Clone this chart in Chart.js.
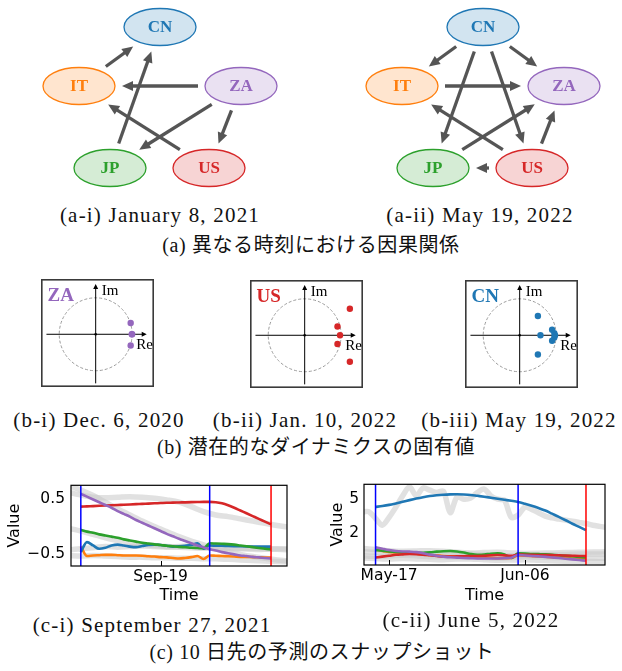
<!DOCTYPE html>
<html>
<head>
<meta charset="utf-8">
<script src="https://cdn.jsdelivr.net/npm/chart.js"></script>
<style>
  html, body { margin: 0; padding: 0; background: #fff; }
  #fig { position: relative; width: 622px; height: 671px; overflow: hidden; background: #fff; }
  #fig canvas { position: absolute; }
  .cap {
    position: absolute; white-space: nowrap; transform: translate(-50%, -50%);
    font-family: "Liberation Serif", "Noto Sans CJK JP", serif; font-size: 21px;
    letter-spacing: 1.2px; line-height: 1.2; color: #111;
  }
  .cap.jp { font-size: 20px; letter-spacing: 0.6px; }
</style>
</head>
<body>
<div id="fig">
  <canvas id="ga1" width="299" height="195" style="left:0px;top:0px"></canvas>
  <canvas id="ga2" width="299" height="195" style="left:323px;top:0px"></canvas>
  <div class="cap" style="left:160px;top:216px">(a-i) January 8, 2021</div>
  <div class="cap" style="left:480px;top:216px">(a-ii) May 19, 2022</div>
  <div class="cap jp" style="left:311px;top:245px">(a) 異なる時刻における因果関係</div>

  <canvas id="eb1" width="121" height="116" style="left:37px;top:275px"></canvas>
  <canvas id="eb2" width="121" height="116" style="left:246px;top:276px"></canvas>
  <canvas id="eb3" width="121" height="116" style="left:461px;top:276px"></canvas>
  <div class="cap" style="left:99px;top:421px">(b-i) Dec. 6, 2020</div>
  <div class="cap" style="left:305px;top:421px">(b-ii) Jan. 10, 2022</div>
  <div class="cap" style="left:519px;top:421px">(b-iii) May 19, 2022</div>
  <div class="cap jp" style="left:316px;top:447px">(b) 潜在的なダイナミクスの固有値</div>

  <canvas id="tc1" width="311" height="140" style="left:0px;top:470px"></canvas>
  <canvas id="tc2" width="311" height="140" style="left:311px;top:470px"></canvas>
  <div class="cap" style="left:152px;top:626px">(c-i) September 27, 2021</div>
  <div class="cap" style="left:471px;top:621px">(c-ii) June 5, 2022</div>
  <div class="cap jp" style="left:322px;top:652px">(c) 10 日先の予測のスナップショット</div>
</div>

<script>
// ---------------- data ----------------

// countries (graph nodes)
const NODES = ['CN', 'IT', 'ZA', 'JP', 'US'];

// causal edges [from, to]
const EDGES_JAN_2021 = [['IT', 'CN'], ['ZA', 'IT'], ['JP', 'CN'], ['US', 'IT'], ['ZA', 'JP'], ['ZA', 'US']];
const EDGES_MAY_2022 = [['CN', 'IT'], ['CN', 'ZA'], ['CN', 'JP'], ['CN', 'US'], ['IT', 'ZA'],
                        ['US', 'IT'], ['JP', 'ZA'], ['US', 'ZA'], ['US', 'JP']];

// eigenvalues of the latent dynamics (real / imaginary parts)
const EIG_ZA_RE = [0.96, 1.00, 0.99, 0.96];
const EIG_ZA_IM = [0.31, 0.00, 0.00, -0.31];
const EIG_US_RE = [1.24, 0.90, 0.97, 0.90, 1.24];
const EIG_US_IM = [0.73, 0.24, 0.00, -0.24, -0.73];
const EIG_CN_RE = [0.50, 0.57, 0.50, 0.89, 0.95, 0.97, 0.95, 0.89];
const EIG_CN_IM = [0.53, 0.00, -0.53, 0.15, 0.06, 0.00, -0.06, -0.15];

// (c-i) day numbers in Sep 2021; window start, forecast origin, horizon
const CI_WINDOW = [6, 27, 37];
const CI_XTICKS = [19];
const CI_XTICK_LABELS = ['Sep-19'];
const CI_YTICKS = [0.5, -0.5];
const CI_YTICK_LABELS = ['0.5', '\u22120.5'];
const CI_PRED_DAYS = [6, 7, 8, 9, 10, 11, 12, 13, 14, 15, 16, 17, 18, 19, 20, 21, 22, 23, 24, 25, 26,
                      27, 28, 29, 30, 31, 32, 33, 34, 35, 36, 37];
const CI_CN = [-0.46, -0.28, -0.34, -0.40, -0.38, -0.34, -0.325, -0.34, -0.36, -0.37, -0.35, -0.33, -0.325,
               -0.33, -0.345, -0.36, -0.355, -0.345, -0.33, -0.30, -0.40,
               -0.34, -0.343, -0.346, -0.349, -0.352, -0.355, -0.357, -0.358, -0.359, -0.36, -0.36];
const CI_IT = [-0.36, -0.53, -0.52, -0.515, -0.51, -0.51, -0.515, -0.52, -0.52, -0.52, -0.525, -0.535, -0.54,
               -0.55, -0.555, -0.565, -0.575, -0.565, -0.55, -0.53, -0.585,
               -0.52, -0.525, -0.53, -0.535, -0.54, -0.545, -0.548, -0.55, -0.553, -0.556, -0.558];
const CI_JP = [-0.06, -0.09, -0.11, -0.14, -0.16, -0.18, -0.20, -0.23, -0.25, -0.27, -0.29, -0.305, -0.32,
               -0.33, -0.345, -0.355, -0.365, -0.372, -0.38, -0.385, -0.39,
               -0.30, -0.305, -0.31, -0.315, -0.325, -0.34, -0.355, -0.37, -0.385, -0.40, -0.41];
const CI_US = [0.36, 0.365, 0.37, 0.375, 0.38, 0.385, 0.39, 0.395, 0.40, 0.405, 0.41, 0.415, 0.42, 0.425,
               0.43, 0.432, 0.435, 0.438, 0.441, 0.444, 0.447,
               0.447, 0.44, 0.42, 0.385, 0.34, 0.29, 0.24, 0.19, 0.14, 0.09, 0.04];
const CI_ZA = [0.59, 0.54, 0.49, 0.44, 0.39, 0.34, 0.28, 0.23, 0.18, 0.12, 0.07, 0.02, -0.03, -0.08,
               -0.13, -0.175, -0.22, -0.26, -0.30, -0.34, -0.375,
               -0.41, -0.43, -0.46, -0.48, -0.50, -0.52, -0.53, -0.545, -0.555, -0.565, -0.575];
// observed values (every other day)
const CI_OBS_DAYS = [4, 6, 8, 10, 12, 14, 16, 18, 20, 22, 24, 26, 28, 30, 32, 34, 36, 38, 40];
const CI_OBS = [
  [0.62, 0.57, 0.53, 0.52, 0.53, 0.54, 0.53, 0.51, 0.48, 0.44, 0.36, 0.27, 0.21, 0.18, 0.14, 0.10, 0.06, 0.02, -0.01],
  [0.74, 0.66, 0.56, 0.44, 0.32, 0.21, 0.10, 0.00, -0.09, -0.18, -0.26, -0.33, -0.40, -0.45, -0.50, -0.54, -0.57, -0.60, -0.62],
  [-0.03, -0.08, -0.14, -0.20, -0.25, -0.29, -0.32, -0.34, -0.36, -0.37, -0.38, -0.39, -0.39, -0.40, -0.40, -0.41, -0.41, -0.41, -0.42],
  [-0.42, -0.40, -0.38, -0.36, -0.37, -0.36, -0.35, -0.36, -0.37, -0.36, -0.35, -0.37, -0.38, -0.38, -0.39, -0.39, -0.40, -0.40, -0.40],
  [-0.52, -0.53, -0.52, -0.53, -0.54, -0.55, -0.55, -0.56, -0.56, -0.57, -0.57, -0.58, -0.58, -0.59, -0.60, -0.61, -0.62, -0.63, -0.64]
];

// (c-ii) day numbers counted from May 1, 2022 (Jun 6 = 37)
const CII_WINDOW = [15, 36, 46];
const CII_XTICKS = [17, 37];
const CII_XTICK_LABELS = ['May-17', 'Jun-06'];
const CII_YTICKS = [5, 2];
const CII_YTICK_LABELS = ['5', '2'];
const CII_PRED_DAYS = [15, 16, 17, 18, 19, 20, 21, 22, 23, 24, 25, 26, 27, 28, 29, 30, 31, 32, 33, 34, 35, 36,
                       37, 38, 39, 40, 41, 42, 43, 44, 45, 46];
const CII_CN = [4.32, 4.40, 4.50, 4.63, 4.77, 4.92, 5.06, 5.18, 5.28, 5.35, 5.40, 5.43, 5.44, 5.42, 5.38, 5.30,
                5.22, 5.13, 5.04, 4.95, 4.86, 4.76, 4.60, 4.42, 4.22, 4.00, 3.72, 3.44, 3.14, 2.83, 2.55, 2.26];
const CII_IT = [0.55, 0.42, 0.33, 0.28, 0.25, 0.22, 0.18, 0.12, 0.06, 0.02, -0.02, -0.05, -0.06, -0.06, -0.08,
                -0.10, -0.14, -0.18, -0.22, -0.22, -0.20, 0.02,
                0.00, -0.03, -0.06, -0.09, -0.12, -0.16, -0.20, -0.24, -0.28, -0.32];
const CII_JP = [0.50, 0.45, 0.38, 0.33, 0.30, 0.28, 0.27, 0.27, 0.30, 0.36, 0.40, 0.42, 0.38, 0.28, 0.15,
                0.08, 0.10, 0.18, 0.22, 0.10, -0.20, 0.22,
                0.20, 0.16, 0.14, 0.12, 0.08, 0.04, 0.00, -0.05, -0.10, -0.15];
const CII_US = [-0.15, -0.08, 0.00, 0.08, 0.12, 0.15, 0.14, 0.10, 0.04, -0.02, -0.07, -0.08, -0.06, -0.04,
                -0.03, -0.02, 0.00, 0.04, 0.06, 0.03, 0.00, 0.10,
                0.09, 0.08, 0.07, 0.06, 0.05, 0.04, 0.02, 0.00, -0.02, -0.03];
const CII_ZA = [0.75, 0.62, 0.50, 0.42, 0.38, 0.36, 0.32, 0.22, 0.10, 0.00, -0.08, -0.14, -0.17, -0.20,
                -0.22, -0.24, -0.25, -0.25, -0.24, -0.22, -0.18, 0.06,
                0.02, -0.02, -0.06, -0.10, -0.15, -0.20, -0.26, -0.32, -0.38, -0.44];
const CII_OBS_CN_DAYS = [13, 14, 15, 16, 17, 18, 19, 20, 21, 22, 23, 24, 25, 26, 27, 28, 29, 30, 31, 32, 33,
                         34, 35, 36, 37, 38, 39, 40, 41, 42, 43, 44, 45, 46, 47, 48, 49];
const CII_OBS_CN = [3.85, 3.9, 3.3, 2.7, 3.4, 4.3, 5.3, 6.1, 5.3, 6.0, 5.8, 5.6, 5.7, 3.8, 5.2, 5.0, 5.1,
                    5.6, 5.9, 5.3, 5.0, 4.9, 3.4, 3.6, 4.3, 4.1, 3.8, 3.5, 3.35, 3.25, 3.15, 3.05, 2.95,
                    2.85, 2.7, 2.6, 2.5];
const CII_OBS_DAYS = [13, 15, 17, 19, 21, 23, 25, 27, 29, 31, 33, 35, 37, 39, 41, 43, 45, 47, 49];
const CII_OBS = [
  [0.65, 0.55, 0.45, 0.40, 0.42, 0.45, 0.40, 0.30, 0.25, 0.28, 0.30, 0.25, 0.20, 0.22, 0.25, 0.28, 0.30, 0.32, 0.35],
  [0.35, 0.30, 0.25, 0.20, 0.15, 0.12, 0.10, 0.12, 0.15, 0.10, 0.05, 0.00, 0.05, 0.08, 0.10, 0.12, 0.15, 0.15, 0.15],
  [0.00, -0.05, -0.02, 0.05, 0.00, -0.08, -0.10, -0.12, -0.10, -0.15, -0.20, -0.15, -0.10, -0.12, -0.15, -0.18, -0.20, -0.22, -0.22],
  [-0.20, -0.25, -0.30, -0.25, -0.28, -0.32, -0.35, -0.30, -0.28, -0.35, -0.40, -0.38, -0.35, -0.40, -0.45, -0.48, -0.50, -0.52, -0.55]
];

// ---------------- styling / layout ----------------
Chart.defaults.animation = false;
Chart.defaults.font.family = "'DejaVu Sans', sans-serif";
Chart.defaults.color = '#000';

const COLORS = { CN: '#1f77b4', IT: '#ff7f0e', ZA: '#9467bd', JP: '#2ca02c', US: '#d62728' };
const SERIF = "'Liberation Serif', 'DejaVu Serif', serif";

// node placement of the five-country diagram (diagram units)
const NODE_LAYOUT = { CN: [160, 27], IT: [79, 86], ZA: [241, 86], JP: [110, 168], US: [209, 168] };
const NODE_RX = 36, NODE_RY = 18.5;

function withAlpha(hex, a) {
  const n = parseInt(hex.slice(1), 16);
  return `rgba(${(n >> 16) & 255},${(n >> 8) & 255},${n & 255},${a})`;
}

const baseOptions = () => ({
  responsive: false, devicePixelRatio: 1, animation: false, events: [],
  plugins: { legend: { display: false }, tooltip: { enabled: false } }
});

// ---------------- (a) causal graphs ----------------
function graphPlugin(edges) {
  return {
    id: 'causalGraph',
    afterDatasetsDraw(chart) {
      const ctx = chart.ctx;
      const els = chart.getDatasetMeta(0).data;
      const pos = {};
      NODES.forEach((n, i) => { pos[n] = { x: els[i].x, y: els[i].y }; });

      // nodes
      NODES.forEach(n => {
        const p = pos[n];
        ctx.save();
        ctx.beginPath();
        ctx.ellipse(p.x, p.y, NODE_RX, NODE_RY, 0, 0, Math.PI * 2);
        ctx.fillStyle = withAlpha(COLORS[n], 0.2);
        ctx.fill();
        ctx.lineWidth = 1.3;
        ctx.strokeStyle = COLORS[n];
        ctx.stroke();
        ctx.fillStyle = COLORS[n];
        ctx.font = `bold 17px ${SERIF}`;
        ctx.textAlign = 'center';
        ctx.textBaseline = 'middle';
        ctx.fillText(n, p.x, p.y + 1);
        ctx.restore();
      });

      // edges
      const gx = NODE_RX + 7, gy = NODE_RY + 6.5;
      edges.forEach(([from, to]) => {
        const a = pos[from], b = pos[to];
        const dx = b.x - a.x, dy = b.y - a.y;
        const len = Math.hypot(dx, dy);
        const ux = dx / len, uy = dy / len;
        const t = 1 / Math.sqrt((ux / gx) ** 2 + (uy / gy) ** 2);
        const sx = a.x + ux * t, sy = a.y + uy * t;
        const ex = b.x - ux * t, ey = b.y - uy * t;
        const head = 11, hw = 5;
        ctx.save();
        ctx.strokeStyle = '#555';
        ctx.fillStyle = '#555';
        ctx.lineWidth = 3.3;
        ctx.beginPath();
        ctx.moveTo(sx, sy);
        ctx.lineTo(ex - ux * head * 0.8, ey - uy * head * 0.8);
        ctx.stroke();
        ctx.beginPath();
        ctx.moveTo(ex, ey);
        ctx.lineTo(ex - ux * head - uy * hw, ey - uy * head + ux * hw);
        ctx.lineTo(ex - ux * head + uy * hw, ey - uy * head - ux * hw);
        ctx.closePath();
        ctx.fill();
        ctx.restore();
      });
    }
  };
}

function makeGraph(id, edges) {
  const opts = baseOptions();
  opts.layout = { padding: 0 };
  opts.scales = {
    x: { type: 'linear', min: 0, max: 299, display: false },
    y: { type: 'linear', min: 0, max: 195, reverse: true, display: false }
  };
  new Chart(document.getElementById(id), {
    type: 'scatter',
    data: { datasets: [{ data: NODES.map(n => ({ x: NODE_LAYOUT[n][0], y: NODE_LAYOUT[n][1] })), pointRadius: 0 }] },
    options: opts,
    plugins: [graphPlugin(edges)]
  });
}
makeGraph('ga1', EDGES_JAN_2021);
makeGraph('ga2', EDGES_MAY_2022);

// ---------------- (b) eigenvalue plots ----------------
function eigPlugin(name) {
  return {
    id: 'complexPlane',
    beforeDatasetsDraw(chart) {
      const { ctx, chartArea: a, scales: { x, y } } = chart;
      const ox = x.getPixelForValue(0), oy = y.getPixelForValue(0);
      const r = x.getPixelForValue(1) - ox;
      ctx.save();
      // frame
      ctx.strokeStyle = '#3a3a3a';
      ctx.lineWidth = 1.6;
      ctx.strokeRect(a.left + 0.8, a.top + 0.8, a.width - 1.6, a.height - 1.6);
      // unit circle
      ctx.setLineDash([3, 2]);
      ctx.strokeStyle = '#9a9a9a';
      ctx.lineWidth = 1;
      ctx.beginPath();
      ctx.arc(ox, oy, r, 0, Math.PI * 2);
      ctx.stroke();
      ctx.setLineDash([]);
      // axes with arrow heads
      ctx.strokeStyle = '#000';
      ctx.fillStyle = '#000';
      ctx.lineWidth = 1;
      const xl = x.getPixelForValue(-1.35), xr = x.getPixelForValue(1.40);
      const yb = y.getPixelForValue(-1.35), yt = y.getPixelForValue(1.38);
      ctx.beginPath();
      ctx.moveTo(xl, oy); ctx.lineTo(xr - 3, oy);
      ctx.moveTo(ox, yb); ctx.lineTo(ox, yt + 3);
      ctx.stroke();
      ctx.beginPath();
      ctx.moveTo(xr, oy); ctx.lineTo(xr - 5, oy - 2.5); ctx.lineTo(xr - 5, oy + 2.5); ctx.closePath();
      ctx.moveTo(ox, yt); ctx.lineTo(ox - 2.5, yt + 5); ctx.lineTo(ox + 2.5, yt + 5); ctx.closePath();
      ctx.fill();
      ctx.beginPath();
      ctx.arc(ox, oy, 1.3, 0, Math.PI * 2);
      ctx.fill();
      // axis names
      ctx.font = `15px ${SERIF}`;
      ctx.textAlign = 'left';
      ctx.textBaseline = 'middle';
      ctx.fillText('Im', ox + 6, y.getPixelForValue(1.2));
      ctx.fillText('Re', x.getPixelForValue(1.115), y.getPixelForValue(-0.30));
      // country name
      ctx.fillStyle = COLORS[name];
      ctx.font = `bold 19px ${SERIF}`;
      ctx.fillText(name, a.left + 6.5, a.top + 17);
      ctx.restore();
    }
  };
}

function makeEig(id, name, re, im) {
  const opts = baseOptions();
  opts.layout = { padding: 0 };
  opts.scales = {
    x: { type: 'linear', min: -1.5, max: 1.6, display: false },
    y: { type: 'linear', min: -1.45, max: 1.52, display: false }
  };
  new Chart(document.getElementById(id), {
    type: 'scatter',
    data: { datasets: [{
      data: re.map((v, i) => ({ x: v, y: im[i] })),
      pointRadius: 3.2, pointBorderWidth: 0, pointBackgroundColor: COLORS[name]
    }] },
    options: opts,
    plugins: [eigPlugin(name)]
  });
}
makeEig('eb1', 'ZA', EIG_ZA_RE, EIG_ZA_IM);
makeEig('eb2', 'US', EIG_US_RE, EIG_US_IM);
makeEig('eb3', 'CN', EIG_CN_RE, EIG_CN_IM);

// ---------------- (c) forecast snapshots ----------------
function zip(xs, ys) { return xs.map((x, i) => ({ x, y: ys[i] })); }

function framePlugin(windowDays) {
  return {
    id: 'frameAndWindow',
    afterDatasetsDraw(chart) {
      const { ctx, chartArea: a, scales: { x } } = chart;
      ctx.save();
      ctx.lineWidth = 1.5;
      windowDays.forEach((d, i) => {
        const px = x.getPixelForValue(d);
        ctx.strokeStyle = i === windowDays.length - 1 ? '#ff0000' : '#0000ff';
        ctx.beginPath();
        ctx.moveTo(px, a.top); ctx.lineTo(px, a.bottom);
        ctx.stroke();
      });
      ctx.restore();
    },
    afterDraw(chart) {
      const { ctx, chartArea: a, scales: { x } } = chart;
      ctx.save();
      ctx.strokeStyle = '#000';
      ctx.lineWidth = 1.2;
      ctx.strokeRect(a.left, a.top, a.width, a.height);
      ctx.lineWidth = 1;
      x.ticks.forEach(t => {
        const px = Math.round(x.getPixelForValue(t.value)) + 0.5;
        ctx.beginPath();
        ctx.moveTo(px, a.bottom); ctx.lineTo(px, a.bottom - 5);
        ctx.stroke();
      });
      ctx.restore();
    }
  };
}

function makeSeries(id, cfg) {
  const pred = (data, name) => ({
    data, borderColor: COLORS[name], borderWidth: 2.6, pointRadius: 0,
    cubicInterpolationMode: 'monotone', fill: false
  });
  const obs = data => ({
    data, borderColor: 'rgba(200,200,200,0.55)', borderWidth: 5.5, pointRadius: 0,
    tension: 0.3, fill: false, clip: 0
  });
  const datasets = [
    pred(zip(cfg.days, cfg.series.ZA), 'ZA'),
    pred(zip(cfg.days, cfg.series.US), 'US'),
    pred(zip(cfg.days, cfg.series.JP), 'JP'),
    pred(zip(cfg.days, cfg.series.CN), 'CN'),
    pred(zip(cfg.days, cfg.series.IT), 'IT'),
    ...cfg.observed.map(o => obs(zip(o.days, o.values)))
  ];
  const opts = baseOptions();
  opts.layout = { padding: { left: 0, top: cfg.padTop, right: cfg.padRight, bottom: 0 } };
  opts.scales = {
    x: {
      type: 'linear', min: cfg.xmin, max: cfg.xmax,
      grid: { display: false, drawTicks: false }, border: { display: false },
      afterBuildTicks: s => { s.ticks = cfg.xticks.map(v => ({ value: v })); },
      afterFit: s => { s.height = cfg.xAxisHeight; },
      ticks: {
        autoSkip: false, maxRotation: 0, padding: 2, color: '#000',
        font: { size: 15.5 }, callback: (v, i) => cfg.xtickLabels[i]
      },
      title: { display: true, text: 'Time', color: '#000', font: { size: 16 }, padding: { top: 0, bottom: 4.4 } }
    },
    y: {
      type: 'linear', min: cfg.ymin, max: cfg.ymax,
      grid: { display: false, drawTicks: false }, border: { display: false },
      afterBuildTicks: s => { s.ticks = cfg.yticks.map(v => ({ value: v })); },
      afterFit: s => { s.width = cfg.yAxisWidth; },
      ticks: {
        autoSkip: false, padding: cfg.yTickPad, color: '#000',
        font: { size: 15.5 }, callback: (v, i) => cfg.ytickLabels[i]
      },
      title: { display: true, text: 'Value', color: '#000', font: { size: 16 }, padding: { top: cfg.yTitlePad, bottom: 0 } }
    }
  };
  new Chart(document.getElementById(id), {
    type: 'line',
    data: { datasets },
    options: opts,
    plugins: [framePlugin(cfg.window)]
  });
}

makeSeries('tc1', {
  days: CI_PRED_DAYS,
  series: { CN: CI_CN, IT: CI_IT, JP: CI_JP, US: CI_US, ZA: CI_ZA },
  observed: CI_OBS.map(v => ({ days: CI_OBS_DAYS, values: v })),
  window: CI_WINDOW,
  xmin: 4.4, xmax: 39.6, ymin: -0.71, ymax: 0.745,
  xticks: CI_XTICKS, xtickLabels: CI_XTICK_LABELS,
  yticks: CI_YTICKS, ytickLabels: CI_YTICK_LABELS,
  padTop: 13, padRight: 24, xAxisHeight: 44, yAxisWidth: 71, yTickPad: 6, yTitlePad: 5
});

makeSeries('tc2', {
  days: CII_PRED_DAYS,
  series: { CN: CII_CN, IT: CII_IT, JP: CII_JP, US: CII_US, ZA: CII_ZA },
  observed: [{ days: CII_OBS_CN_DAYS, values: CII_OBS_CN }].concat(CII_OBS.map(v => ({ days: CII_OBS_DAYS, values: v }))),
  window: CII_WINDOW,
  xmin: 13.3, xmax: 48.8, ymin: -0.82, ymax: 6.32,
  xticks: CII_XTICKS, xtickLabels: CII_XTICK_LABELS,
  yticks: CII_YTICKS, ytickLabels: CII_YTICK_LABELS,
  padTop: 14, padRight: 17, xAxisHeight: 45, yAxisWidth: 53, yTickPad: 5, yTitlePad: 17
});
</script>
</body>
</html>
